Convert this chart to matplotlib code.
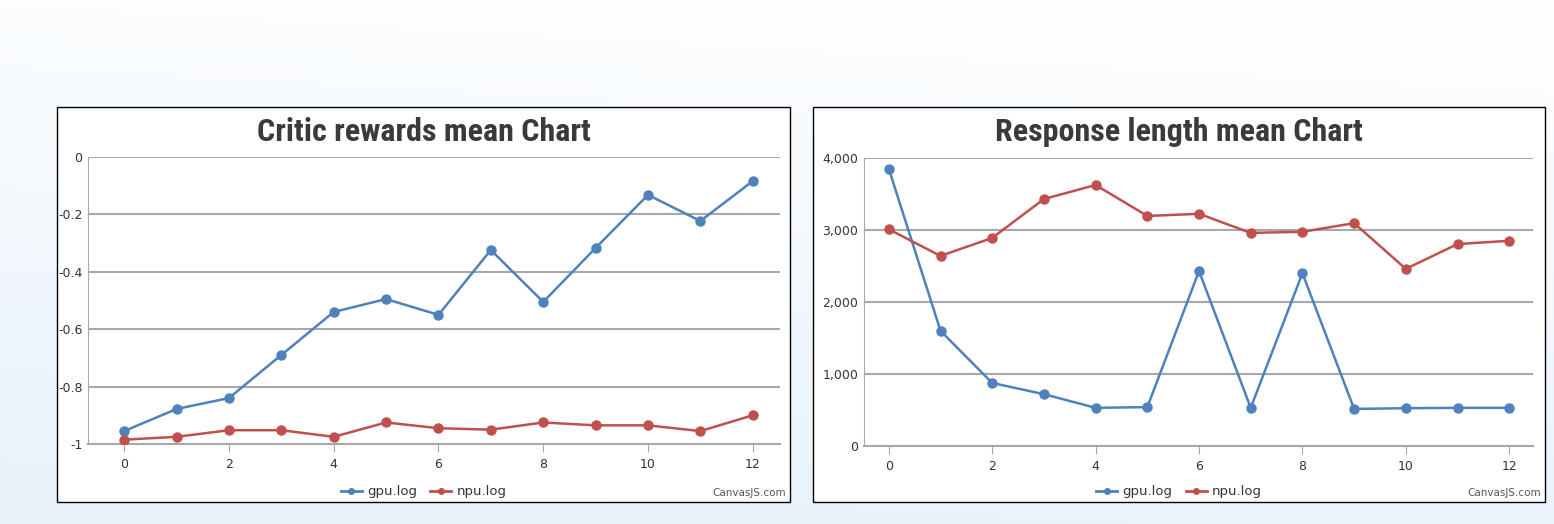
import numpy as np
import matplotlib
matplotlib.use("Agg")
import matplotlib.pyplot as plt
from matplotlib import font_manager
from matplotlib.patches import Rectangle
from matplotlib.lines import Line2D

steps = list(range(13))

# critic rewards mean
critic_gpu = [-0.955, -0.878, -0.84, -0.69, -0.54, -0.495, -0.55, -0.324, -0.505, -0.317, -0.132, -0.223, -0.084]
critic_npu = [-0.985, -0.975, -0.952, -0.952, -0.975, -0.925, -0.945, -0.95, -0.925, -0.935, -0.935, -0.955, -0.90]

# response length mean
resp_gpu = [3850, 1600, 875, 720, 530, 540, 2430, 530, 2400, 515, 525, 530, 530]
resp_npu = [3010, 2640, 2890, 3430, 3625, 3195, 3225, 2960, 2975, 3095, 2460, 2805, 2850]

series_names = ["gpu.log", "npu.log"]
blue = "#4f81bc"
red = "#c0504e"

# pick a narrow bold font for the titles if one is around
installed = {f.name for f in font_manager.fontManager.ttflist}
title_font = "DejaVu Sans"
for name in ["Liberation Sans Narrow", "DejaVu Sans Condensed", "Roboto Condensed"]:
    if name in installed:
        title_font = name
        break

W, H = 1554, 524
fig = plt.figure(figsize=(W / 100, H / 100), dpi=100)

# light background
bg = fig.add_axes([0, 0, 1, 1], zorder=-10)
grad = np.linspace(0, 1, 200)[:, None] * np.ones((1, 300))
xs = np.linspace(0, 1, 300)[None, :]
top = np.array([1.0, 1.0, 1.0])
bot = np.array([0.91, 0.95, 0.985])
t = np.clip(grad * 0.9 + (1 - xs) * 0.15, 0, 1)
img = top[None, None, :] * (1 - t[..., None]) + bot[None, None, :] * t[..., None]
bg.imshow(img, aspect="auto", extent=[0, 1, 0, 1], origin="upper")
bg.axis("off")


def fx(px):
    return px / W


def fy(py):
    return 1 - py / H


def panel(box, plot_box, title, gpu, npu, ylim, yticks, yfmt, xlim):
    x0, y0, x1, y1 = box
    fig.patches.append(Rectangle((fx(x0), fy(y1)), fx(x1) - fx(x0), fy(y0) - fy(y1),
                                 transform=fig.transFigure, facecolor="white",
                                 edgecolor="black", linewidth=1.0, zorder=-5))
    fsize = 23 if title_font != "DejaVu Sans" else 18
    fig.text(fx((x0 + x1) / 2), fy(132), title, ha="center", va="center",
             fontsize=fsize, fontweight="bold", color="#3a3a3a", family=title_font)
    px0, py0, px1, py1 = plot_box
    ax = fig.add_axes([fx(px0), fy(py1), fx(px1) - fx(px0), fy(py0) - fy(py1)])
    ax.set_facecolor("none")
    ax.plot(steps, gpu, color=blue, lw=1.8, marker="o", ms=6.5, zorder=3)
    ax.plot(steps, npu, color=red, lw=1.8, marker="o", ms=6.5, zorder=3)
    ax.set_xlim(*xlim)
    ax.set_ylim(*ylim)
    ax.set_xticks(range(0, 13, 2))
    ax.set_yticks(yticks)
    ax.set_yticklabels([yfmt(v) for v in yticks])
    ax.yaxis.grid(True, color="#a8a8a8", lw=1.5)
    ax.set_axisbelow(True)
    for s in ["top", "right"]:
        ax.spines[s].set_visible(False)
    ax.spines["left"].set_color("#a8a8a8")
    ax.spines["bottom"].set_color("#a8a8a8")
    ax.spines["bottom"].set_linewidth(1.5)
    ax.tick_params(axis="x", colors="#a8a8a8", labelcolor="#333333", labelsize=9, length=6, pad=4)
    ax.tick_params(axis="y", length=0, labelcolor="#333333", labelsize=9, pad=4)
    handles = [Line2D([], [], color=blue, lw=2, marker="o", ms=4),
               Line2D([], [], color=red, lw=2, marker="o", ms=4)]
    fig.legend(handles, series_names, loc="center", bbox_to_anchor=(fx((x0 + x1) / 2), fy(492)),
               ncol=2, frameon=False, fontsize=9.5, handlelength=1.6, columnspacing=1.0,
               handletextpad=0.4, labelcolor="#333333")
    fig.text(fx(x1 - 4), fy(493), "CanvasJS.com", ha="right", va="center",
             fontsize=7.5, color="#555555")
    return ax


panel((57, 107, 790, 502), (88, 157, 780, 444), "Critic rewards mean Chart",
      critic_gpu, critic_npu, (-1, 0), [-1, -0.8, -0.6, -0.4, -0.2, 0],
      lambda v: "0" if v == 0 else ("-1" if v == -1 else f"{v:.1f}"), (-0.69, 12.52))

panel((813, 107, 1545, 502), (864, 158, 1533, 446), "Response length mean Chart",
      resp_gpu, resp_npu, (0, 4000), [0, 1000, 2000, 3000, 4000],
      lambda v: f"{v:,}", (-0.48, 12.46))

fig.savefig("out.png", dpi=100)
